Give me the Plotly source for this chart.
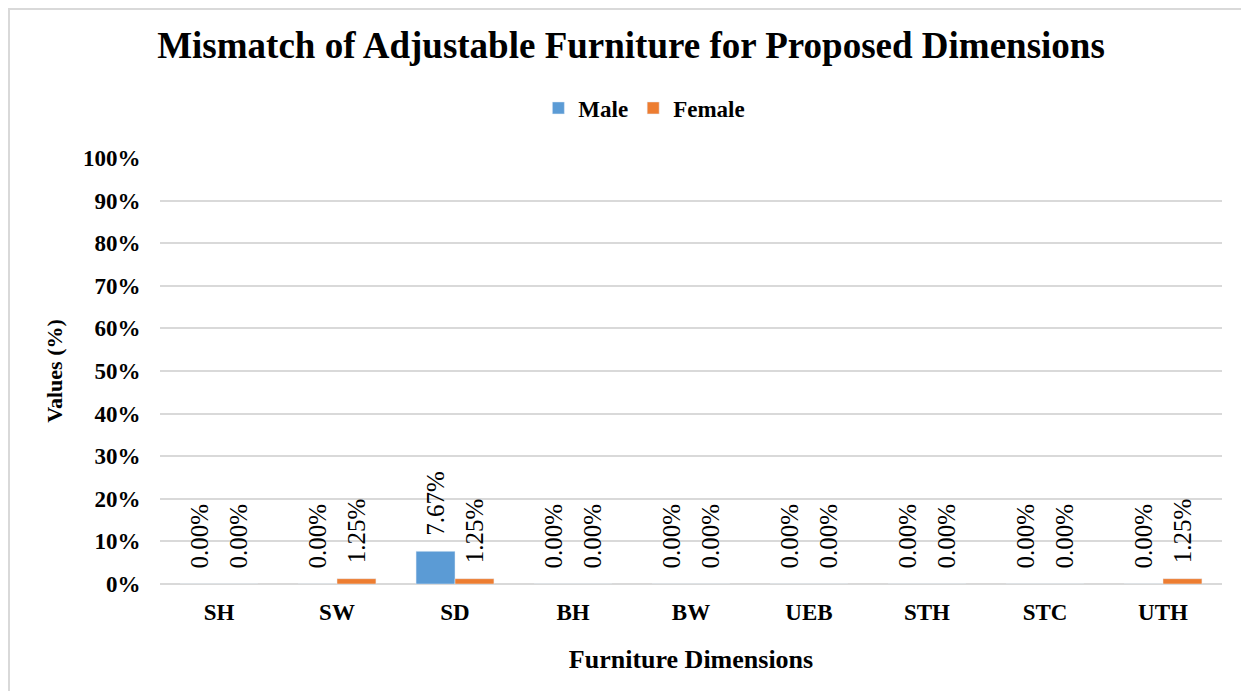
import plotly.graph_objects as go

dimensions = ['SH', 'SW', 'SD', 'BH', 'BW', 'UEB', 'STH', 'STC', 'UTH']
male = [0.0, 0.0, 7.67, 0.0, 0.0, 0.0, 0.0, 0.0, 0.0]
female = [0.0, 1.25, 1.25, 0.0, 0.0, 0.0, 0.0, 0.0, 1.25]
y_ticks = [0, 10, 20, 30, 40, 50, 60, 70, 80, 90, 100]

serif = 'Liberation Serif, Times New Roman, serif'
# page body has an 8px margin, so the figure is a bit smaller than the window
W, H = 1241, 683
L, R, T, B = 152, 27, 150, 107

label_font = dict(family=serif, size=25, color='black')
fig = go.Figure()
fig.add_trace(go.Bar(x=dimensions, y=male, name='Male', marker_color='#5B9BD5',
                     texttemplate='\u00a0\u00a0%{y:.2f}%', textposition='outside',
                     textangle=-90, cliponaxis=False, constraintext='none',
                     textfont=label_font))
fig.add_trace(go.Bar(x=dimensions, y=female, name='Female', marker_color='#ED7D31',
                     texttemplate='\u00a0\u00a0%{y:.2f}%', textposition='outside',
                     textangle=-90, cliponaxis=False, constraintext='none',
                     textfont=label_font))

# light frame lines at top and left of the picture
pw, ph = W - L - R, H - T - B
fig.add_shape(type='line', xref='paper', yref='paper', x0=-L / pw, x1=(W - L) / pw,
              y0=(H - B - 1) / ph, y1=(H - B - 1) / ph, line=dict(color='#d9d9d9', width=2))
fig.add_shape(type='line', xref='paper', yref='paper', x0=(1 - L) / pw, x1=(1 - L) / pw,
              y0=(H - B) / ph, y1=-B / ph, line=dict(color='#d9d9d9', width=2))

fig.update_layout(
    width=W, height=H,
    margin=dict(l=L, r=R, t=T, b=B),
    paper_bgcolor='white', plot_bgcolor='white',
    font=dict(family=serif, color='black'),
    title=dict(text='<b>Mismatch of Adjustable Furniture for Proposed Dimensions</b>',
               x=(631 - 8) / W, xanchor='center', y=1 - 37 / H, yanchor='middle',
               font=dict(size=37, family=serif, color='black')),
    legend=dict(orientation='h', x=(636 - 8 - 62) / W, xanchor='center', y=1 - 100 / H, yref='container',
                yanchor='middle', font=dict(size=23, family=serif, weight='bold'),
                itemwidth=30, traceorder='normal', tracegroupgap=0),
    barmode='group', bargap=0.34, bargroupgap=0,
    xaxis=dict(title=dict(text='<b>Furniture Dimensions</b>', font=dict(size=26), standoff=26),
               tickfont=dict(size=23, weight='bold'), showline=False,
               ticks='outside', ticklen=7, tickcolor='white'),
    yaxis=dict(title=dict(text='<b>Values (%)</b>', font=dict(size=22), standoff=14),
               range=[0, 100], tickvals=y_ticks, ticktext=['%d%%' % v for v in y_ticks],
               tickfont=dict(size=23, weight='bold'), gridcolor='#d9d9d9', gridwidth=2,
               zeroline=True, zerolinecolor='#d9d9d9', zerolinewidth=2, showline=False,
               ticks='outside', ticklen=14, tickcolor='white'),
)

fig.write_html('out.html')
